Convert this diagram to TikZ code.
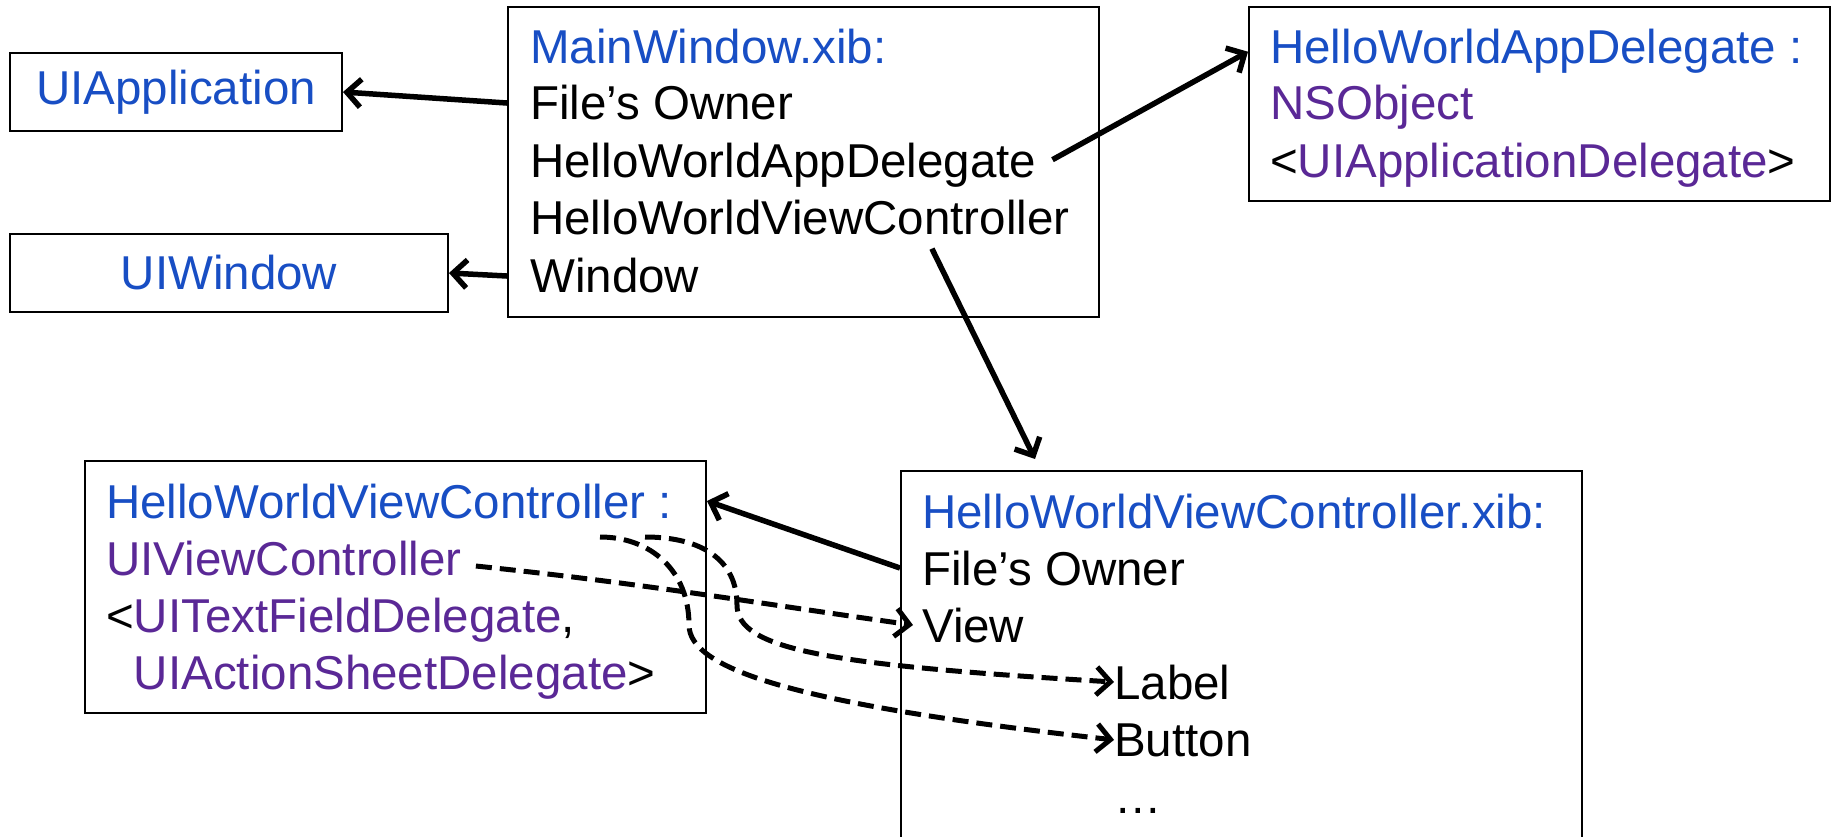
\documentclass[tikz,border=0pt]{standalone}
\usepackage{fontspec}
\setmainfont{Liberation Sans}
\usetikzlibrary{arrows.meta}
\definecolor{xibblue}{RGB}{24,78,196}
\definecolor{clspurple}{RGB}{90,40,150}

\begin{document}
\begin{tikzpicture}[x=1pt,y=1pt,
        font=\fontsize{47.5}{57}\selectfont,
        box/.style={draw,line width=2pt,inner sep=0pt},
        txt/.style={anchor=base west,inner sep=0pt},
        link/.style={-{Straight Barb[length=14pt,width=28pt]},line width=5.5pt},
        outlet/.style={link,line width=5pt,dash pattern=on 16pt off 8pt}]
        \useasboundingbox (0,0) rectangle (1835,836);

        % boxes
        \node[box,minimum width=332pt,minimum height=78pt] (uiapp) at (176,744) {\textcolor{xibblue}{UIApplication}};
        \node[box,minimum width=438pt,minimum height=78pt] (uiwin) at (229,563) {\textcolor{xibblue}{UIWindow}};
        \node[box,minimum width=591pt,minimum height=310pt] (mainxib) at (803.5,674) {};
        \node[box,minimum width=581pt,minimum height=194pt] (appdel) at (1539.5,732) {};
        \node[box,minimum width=621pt,minimum height=252pt] (vc) at (395.5,249) {};
        \node[box,minimum width=681pt,minimum height=385pt] (vcxib) at (1241.5,172.5) {};

        % MainWindow.xib
        \node[txt] (mainTitle) at (530,772) {\textcolor{xibblue}{MainWindow.xib:}};
        \node[txt] (mainOwner) at (530,716) {File’s Owner};
        \node[txt] (mainDelegate) at (530,658) {HelloWorldAppDelegate};
        \node[txt] (mainVC) at (530,601) {HelloWorldViewController};
        \node[txt] (mainWindow) at (530,543) {Window};

        % app delegate class
        \node[txt] (appTitle) at (1270,772) {\textcolor{xibblue}{HelloWorldAppDelegate :}};
        \node[txt] (appSuper) at (1270,716) {\textcolor{clspurple}{NSObject}};
        \node[txt] (appProto) at (1270,658) {<\textcolor{clspurple}{UIApplicationDelegate}>};

        % view controller class
        \node[txt] (vcTitle) at (106,318) {\textcolor{xibblue}{HelloWorldViewController :}};
        \node[txt] (vcSuper) at (106,261) {\textcolor{clspurple}{UIViewController}};
        \node[txt] (vcProto) at (106,204) {<\textcolor{clspurple}{UITextFieldDelegate},};
        \node[txt] (vcProtoB) at (106,147) {\hphantom{<}\textcolor{clspurple}{UIActionSheetDelegate}>};

        % HelloWorldViewController.xib
        \node[txt] (xibTitle) at (922,308) {\textcolor{xibblue}{HelloWorldViewController.xib:}};
        \node[txt] (xibOwner) at (922,251) {File’s Owner};
        \node[txt] (xibView) at (922,194) {View};
        \node[txt] (xibLabel) at (1114,137) {Label};
        \node[txt] (xibButton) at (1114,80) {Button};
        \node[txt] (xibMore) at (1114,23) {…};

        \coordinate (lblStart) at (645,299);
        \coordinate (btnStart) at (600,299);

        % references
        \draw[link] (mainxib.west |- mainOwner) -- (uiapp.east);
        \draw[link] (mainxib.west |- mainWindow) -- (uiwin.east);
        \draw[link] ([xshift=16pt,yshift=6pt]mainDelegate.east) -- (appdel.west |- appTitle);
        \draw[link] ([xshift=132pt,yshift=-13pt]mainVC.south) -- ([xshift=135pt,yshift=11pt]vcxib.north west);
        \draw[link] (vcxib.west |- xibOwner) -- (vc.east |- vcTitle);

        % outlets
        \draw[outlet] ([xshift=14pt,yshift=-8pt]vcSuper.east) to[out=-6,in=172] ([xshift=-9pt]xibView.west);
        \draw[outlet] (lblStart) .. controls (702,299) and (737,276) .. (737,231)
            .. controls (737,186) and (830,171) .. (xibLabel.west);
        \draw[outlet] (btnStart) .. controls (650,299) and (689,266) .. (689,211)
            .. controls (689,166) and (800,131) .. (xibButton.west);
    \end{tikzpicture}
\end{document}
